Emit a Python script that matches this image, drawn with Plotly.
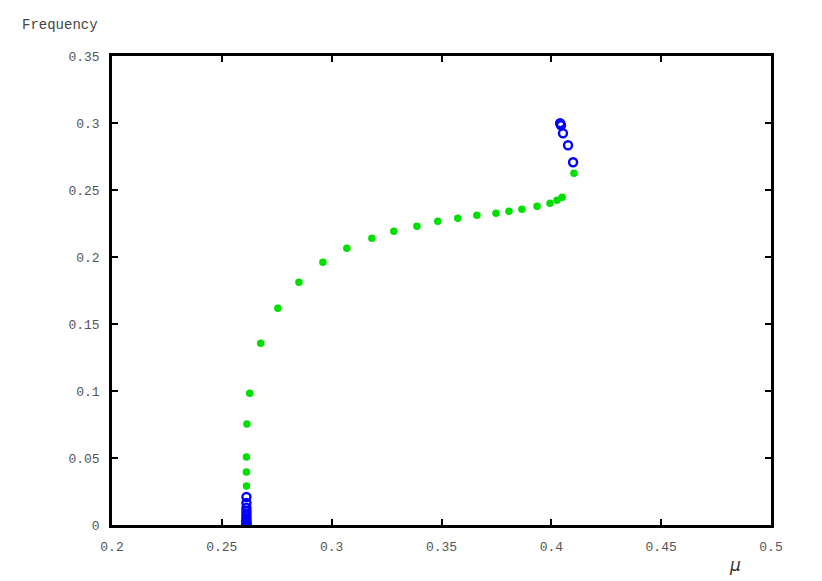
import plotly.graph_objects as go

# stable branch (filled green dots)
mu_green = [0.2612, 0.2612, 0.2612, 0.2614, 0.2627, 0.2677, 0.2755, 0.2851, 0.2960,
            0.3069, 0.3183, 0.3283, 0.3388, 0.3483, 0.3574, 0.3661, 0.3748, 0.3807,
            0.3866, 0.3935, 0.3994, 0.4026, 0.4049, 0.4103]
freq_green = [0.0291, 0.0395, 0.0507, 0.0753, 0.0984, 0.1357, 0.1618, 0.1812, 0.1961,
              0.2066, 0.2140, 0.2192, 0.2230, 0.2267, 0.2289, 0.2312, 0.2327, 0.2342,
              0.2356, 0.2379, 0.2401, 0.2424, 0.2446, 0.2625]

# unstable points (open blue circles)
mu_blue = [0.2612, 0.2612, 0.2612, 0.2612, 0.2612, 0.2612, 0.2612, 0.2612, 0.2612,
           0.2612, 0.2612, 0.2612, 0.4040, 0.4044, 0.4053, 0.4076, 0.4099]
freq_blue = [0.0209, 0.0164, 0.0130, 0.0105, 0.0085, 0.0065, 0.0048, 0.0035, 0.0022,
             0.0012, 0.0005, 0.0, 0.2998, 0.2983, 0.2923, 0.2834, 0.2707]

font_mono = "Liberation Mono, DejaVu Sans Mono, monospace"

fig = go.Figure()

fig.add_trace(go.Scatter(
    x=mu_green, y=freq_green, mode="markers",
    marker=dict(color="#00e000", size=7.5, line=dict(width=0)),
    showlegend=False
))
fig.add_trace(go.Scatter(
    x=mu_blue, y=freq_blue, mode="markers",
    marker=dict(symbol="circle-open", color="#0000ff", size=8, line=dict(width=2.4)),
    showlegend=False
))

fig.update_xaxes(
    range=[0.2, 0.5], tickvals=[0.2, 0.25, 0.3, 0.35, 0.4, 0.45, 0.5],
    ticktext=["0.2", "0.25", "0.3", "0.35", "0.4", "0.45", "0.5"],
    showline=True, linewidth=2.5, linecolor="black", mirror="ticks",
    ticks="inside", ticklen=6, tickwidth=2, tickcolor="black",
    showgrid=False, zeroline=False, ticklabelstandoff=8,
    tickfont=dict(family=font_mono, size=13, color="#555")
)
fig.update_yaxes(
    range=[0, 0.35], tickvals=[0, 0.05, 0.1, 0.15, 0.2, 0.25, 0.3, 0.35],
    ticktext=["0", "0.05", "0.1", "0.15", "0.2", "0.25", "0.3", "0.35"],
    showline=True, linewidth=2.5, linecolor="black", mirror="ticks",
    ticks="inside", ticklen=6, tickwidth=2, tickcolor="black",
    showgrid=False, zeroline=False, ticklabelstandoff=7,
    tickfont=dict(family=font_mono, size=13, color="#555")
)

fig.add_annotation(
    text="Frequency", xref="paper", yref="paper",
    x=-0.14, y=1.066, xanchor="left", yanchor="middle", showarrow=False,
    font=dict(family=font_mono, size=14, color="#444")
)
fig.add_annotation(
    text="<i>μ</i>", xref="paper", yref="paper",
    x=0.945, y=-0.085, xanchor="center", yanchor="middle", showarrow=False,
    font=dict(family="DejaVu Sans, sans-serif", size=17, color="#333")
)

fig.update_layout(
    width=822, height=581,
    margin=dict(l=104, r=59, t=48, b=64),
    plot_bgcolor="white", paper_bgcolor="white",
    showlegend=False
)

fig.write_html("out.html")
